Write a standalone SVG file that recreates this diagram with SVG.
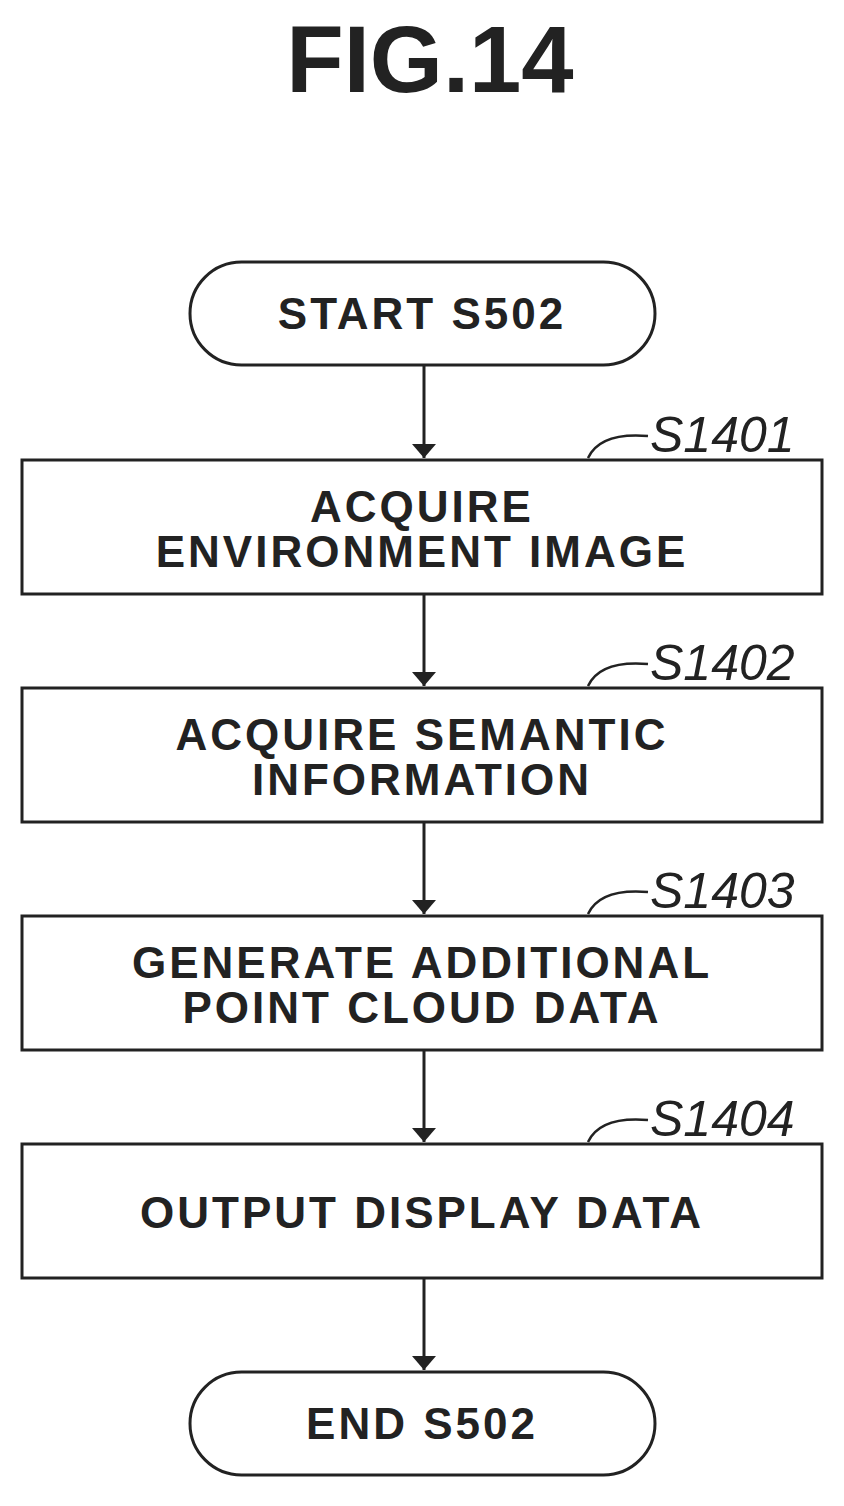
<svg xmlns="http://www.w3.org/2000/svg" width="844" height="1506" viewBox="0 0 844 1506">
<defs>
<marker id="ah" markerWidth="14" markerHeight="24" refX="14" refY="12" orient="auto" markerUnits="userSpaceOnUse"><path d="M0,0 L14,12 L0,24 Z" fill="#222"/></marker>
<style>
.b{fill:#fff;stroke:#222;stroke-width:3}
.t{font-family:"Liberation Sans",Arial,sans-serif;font-weight:bold;font-size:44px;letter-spacing:3px;fill:#222;text-anchor:middle}
.l{font-family:"Liberation Sans",Arial,sans-serif;font-style:italic;font-size:50px;fill:#222}
.c{fill:none;stroke:#222;stroke-width:2.5}
</style>
</defs>
<rect width="844" height="1506" fill="#fff"/>
<text x="430" y="92" class="t" style="font-size:94px;letter-spacing:0">FIG.14</text>
<g id="start"><rect class="b" x="190" y="262" width="465" height="103" rx="51.5"/><text class="t" x="422" y="329">START S502</text></g>
<g id="s1401"><rect class="b" x="22" y="460" width="800" height="134"/><text class="t" x="422" y="522">ACQUIRE</text><text class="t" x="422" y="567">ENVIRONMENT IMAGE</text><path class="c" d="M588,458 Q600,432 648,436"/><text class="l" x="650" y="452">S1401</text></g>
<g id="s1402"><rect class="b" x="22" y="688" width="800" height="134"/><text class="t" x="422" y="750">ACQUIRE SEMANTIC</text><text class="t" x="422" y="795">INFORMATION</text><path class="c" d="M588,686 Q600,660 648,664"/><text class="l" x="650" y="680">S1402</text></g>
<g id="s1403"><rect class="b" x="22" y="916" width="800" height="134"/><text class="t" x="422" y="978">GENERATE ADDITIONAL</text><text class="t" x="422" y="1023">POINT CLOUD DATA</text><path class="c" d="M588,914 Q600,888 648,892"/><text class="l" x="650" y="908">S1403</text></g>
<g id="s1404"><rect class="b" x="22" y="1144" width="800" height="134"/><text class="t" x="422" y="1228">OUTPUT DISPLAY DATA</text><path class="c" d="M588,1142 Q600,1116 648,1120"/><text class="l" x="650" y="1136">S1404</text></g>
<g id="end"><rect class="b" x="190" y="1372" width="465" height="103" rx="51.5"/><text class="t" x="422" y="1439">END S502</text></g>
<g id="connectors" stroke="#222" stroke-width="3" marker-end="url(#ah)">
<line x1="424" y1="365" x2="424" y2="458"/>
<line x1="424" y1="594" x2="424" y2="686"/>
<line x1="424" y1="822" x2="424" y2="914"/>
<line x1="424" y1="1050" x2="424" y2="1142"/>
<line x1="424" y1="1278" x2="424" y2="1370"/>
</g>
</svg>
